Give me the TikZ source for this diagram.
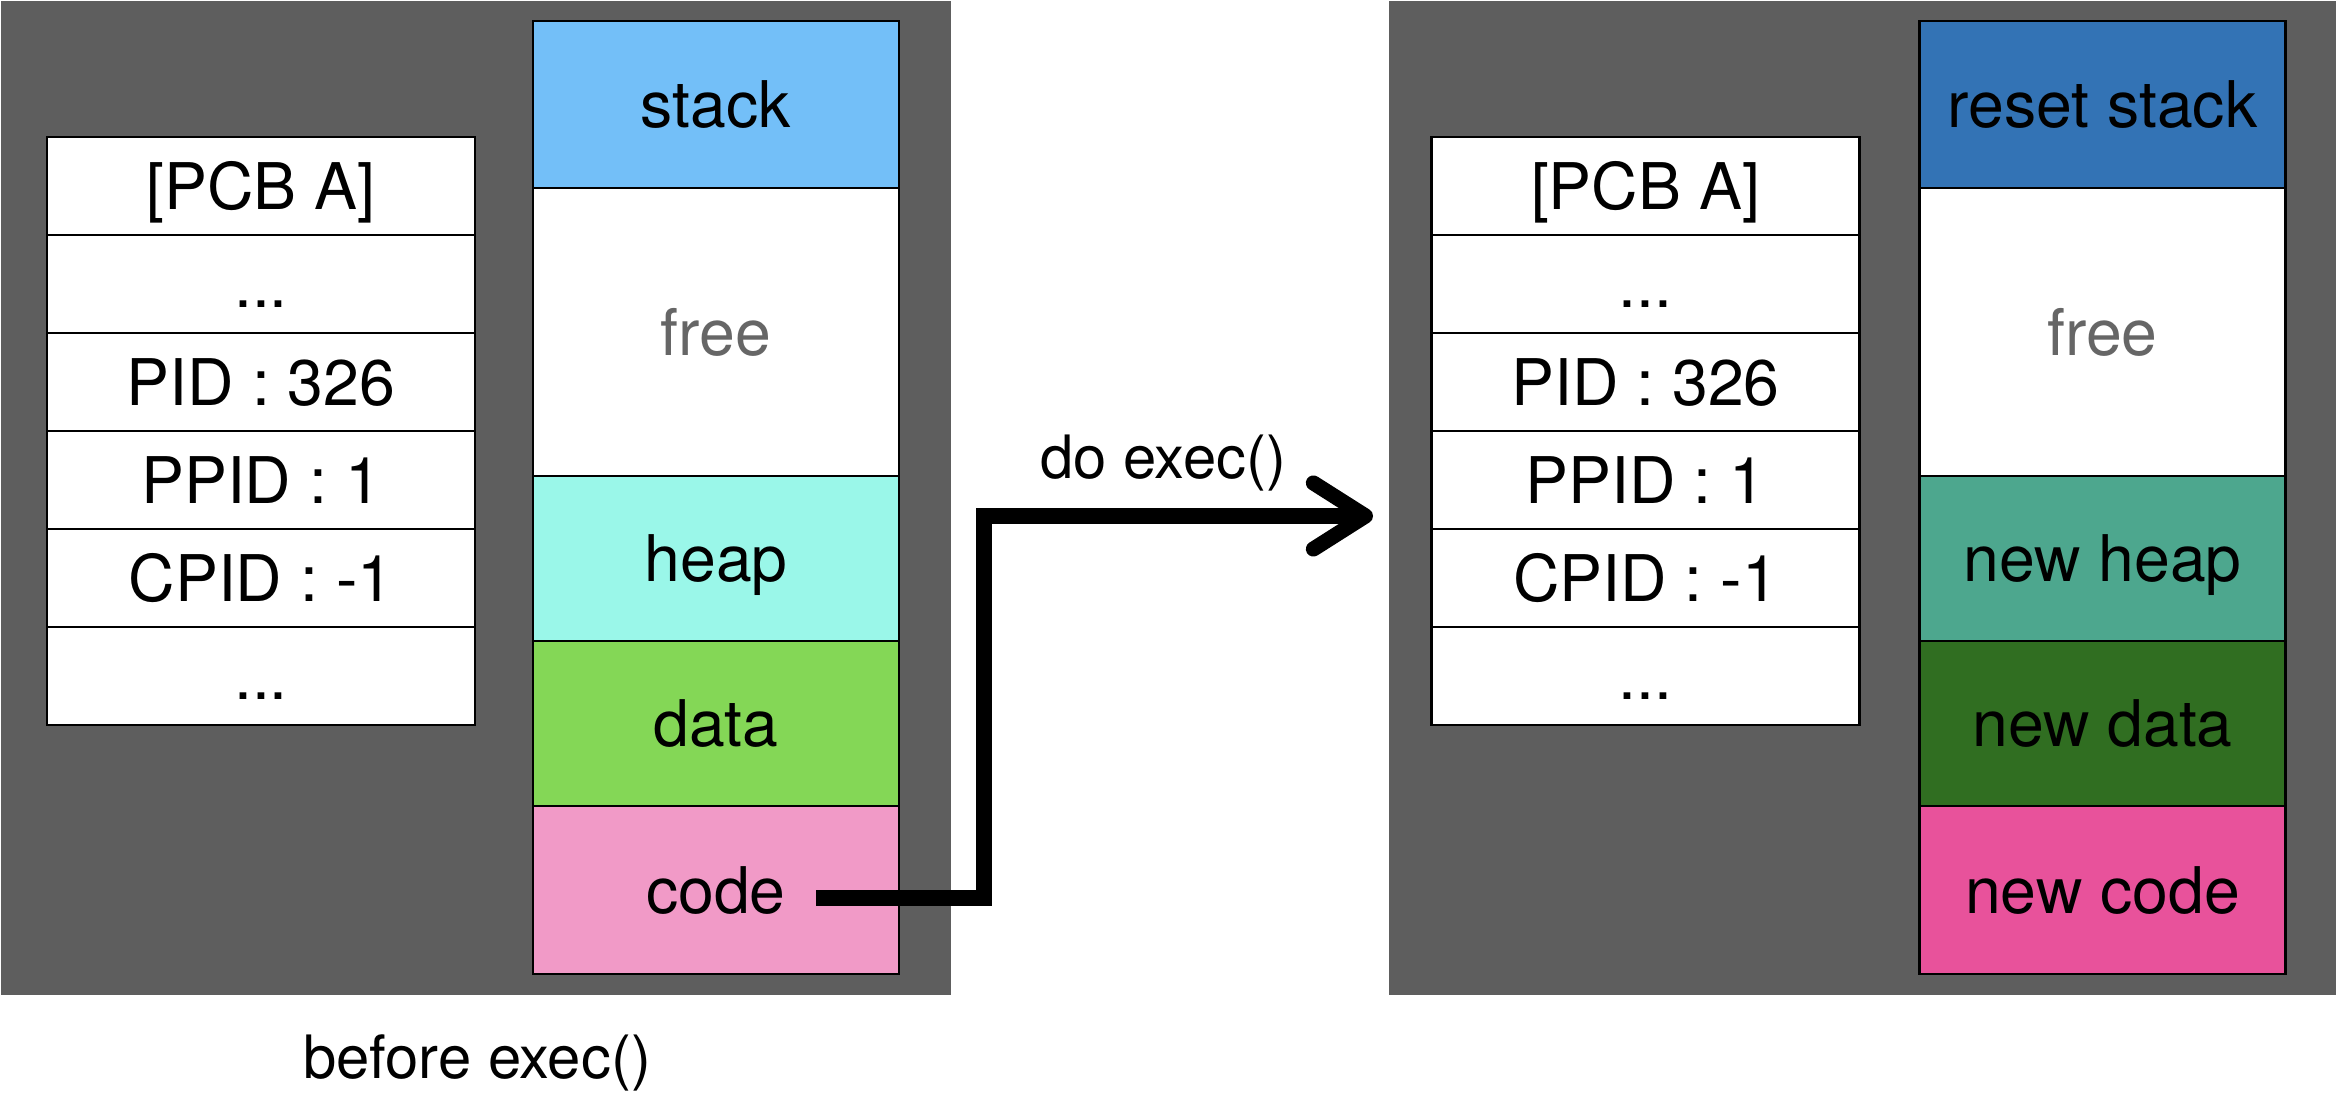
\documentclass[tikz,border=0pt]{standalone}
\usepackage{fontspec}
\setmainfont{TeX Gyre Heros}
\usetikzlibrary{arrows.meta}
\definecolor{bg}{HTML}{5E5E5E}
\definecolor{cstack}{HTML}{73BFF8}
\definecolor{cheap}{HTML}{9AF7E9}
\definecolor{cdata}{HTML}{84D756}
\definecolor{ccode}{HTML}{F19AC7}
\definecolor{crstack}{HTML}{3373B5}
\definecolor{cnheap}{HTML}{4DA78E}
\definecolor{cndata}{HTML}{306E21}
\definecolor{cncode}{HTML}{E8529B}
\definecolor{freetext}{HTML}{666666}
\begin{document}
\begin{tikzpicture}[x=0.01cm,y=-0.01cm,
  panel/.style={fill=bg, draw=none, inner sep=0pt, anchor=north west},
  cell/.style={draw=black, line width=0.7pt, fill=white, inner sep=0pt,
    text height=13.1pt, text depth=0pt, font=\fontsize{18.3}{20}\selectfont},
  pcbcell/.style={cell, minimum width=4.28cm, minimum height=0.98cm},
  memcell/.style={cell, minimum width=3.66cm},
  lbl/.style={anchor=base, inner sep=0pt, font=\fontsize{17}{19}\selectfont},
  conn/.style={line width=4.3pt, line join=miter, -{Straight Barb[length=5.2mm,width=6.6mm,round]}}
]
\useasboundingbox (0,0) rectangle (2336,1104);
\fill[white] (0,0) rectangle (2336,1104);

% panels
\node[panel, minimum width=9.50cm, minimum height=9.94cm] (lpanel) at (0,0) {};
\node[panel, minimum width=9.48cm, minimum height=9.94cm] (rpanel) at (1388,0) {};

% left PCB
\node[pcbcell] (lp1) at (261,186) {[PCB A]};
\node[pcbcell] (lp2) at (261,284) {...};
\node[pcbcell] (lp3) at (261,382) {PID : 326};
\node[pcbcell] (lp4) at (261,480) {PPID : 1};
\node[pcbcell] (lp5) at (261,578) {CPID : -1};
\node[pcbcell] (lp6) at (261,676) {...};

% left memory
\node[memcell, fill=cstack, minimum height=1.67cm] (lstack) at (716,104.5) {stack};
\node[memcell, fill=white, text=freetext, minimum height=2.88cm] (lfree) at (716,332) {free};
\node[memcell, fill=cheap, minimum height=1.65cm] (lheap) at (716,558.5) {heap};
\node[memcell, fill=cdata, minimum height=1.65cm] (ldata) at (716,723.5) {data};
\node[memcell, fill=ccode, minimum height=1.68cm] (lcode) at (716,890) {code};

% right PCB
\node[pcbcell] (rp1) at (1645.5,186) {[PCB A]};
\node[pcbcell] (rp2) at (1645.5,284) {...};
\node[pcbcell] (rp3) at (1645.5,382) {PID : 326};
\node[pcbcell] (rp4) at (1645.5,480) {PPID : 1};
\node[pcbcell] (rp5) at (1645.5,578) {CPID : -1};
\node[pcbcell] (rp6) at (1645.5,676) {...};

% right memory
\node[memcell, fill=crstack, minimum height=1.67cm] (rstack) at (2102.5,104.5) {reset stack};
\node[memcell, fill=white, text=freetext, minimum height=2.88cm] (rfree) at (2102.5,332) {free};
\node[memcell, fill=cnheap, minimum height=1.65cm] (rheap) at (2102.5,558.5) {new heap};
\node[memcell, fill=cndata, minimum height=1.65cm] (rdata) at (2102.5,723.5) {new data};
\node[memcell, fill=cncode, minimum height=1.68cm] (rcode) at (2102.5,890) {new code};

% labels
\node[lbl] (dolbl) at (1163,479) {do exec()};
\node[lbl] (beflbl) at (477,1079) {before exec()};

% connector
\coordinate (cstart) at (816,898);
\coordinate (cbend) at (984,898);
\coordinate (cend) at (1373,516);
\draw[conn] (cstart) -- (cbend) |- (cend);
\end{tikzpicture}
\end{document}
